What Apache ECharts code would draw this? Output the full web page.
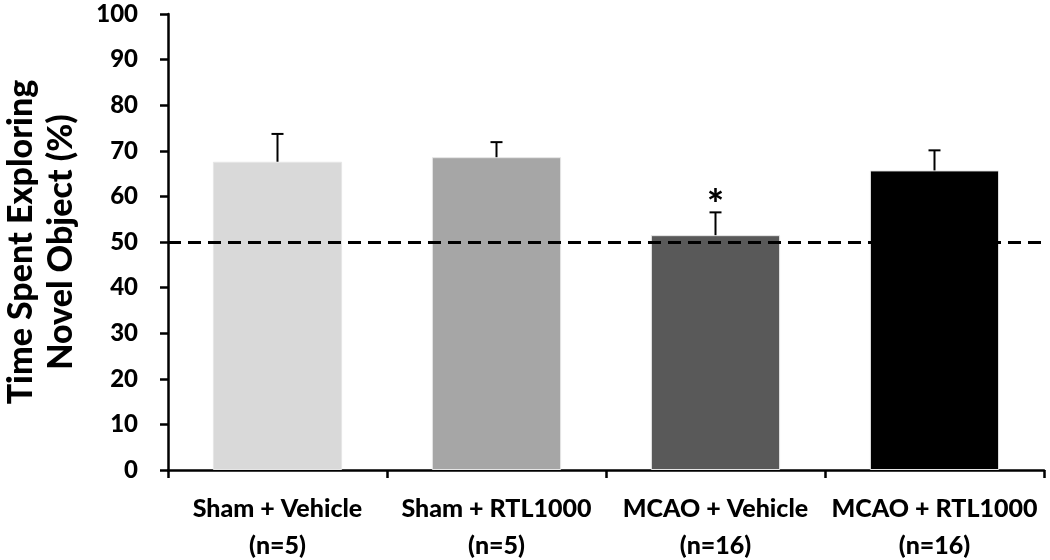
<!DOCTYPE html>
<html><head><meta charset="utf-8">
<script src="https://cdn.jsdelivr.net/npm/echarts@6/dist/echarts.min.js"></script>
<style>html,body{margin:0;padding:0;background:#fff}#c{width:1050px;height:560px}</style>
</head><body><div id="c"></div>
<script>
const categories = ['Sham + Vehicle\n(n=5)', 'Sham + RTL1000\n(n=5)', 'MCAO + Vehicle\n(n=16)', 'MCAO + RTL1000\n(n=16)'];
const means = [67.6, 68.6, 51.5, 65.7];
const errors = [6.1, 3.3, 5.0, 4.4];
const stars = ['', '', '*', ''];
const barColors = ['#d9d9d9', '#a6a6a6', '#595959', '#000000'];
const chanceLevel = 50;
const yTicks = [0, 100, 10];

const FONT = 'Lato';
const chart = echarts.init(document.getElementById('c'));
chart.setOption({
  animation: false,
  grid: { left: 168, right: 6, top: 14, bottom: 90, containLabel: false, outerBoundsMode: 'none' },
  xAxis: {
    type: 'category', data: categories,
    axisLine: { lineStyle: { color: '#000', width: 2.5 } },
    axisTick: { show: true, interval: 0, length: 8, lineStyle: { color: '#000', width: 2.5 } },
    axisLabel: { interval: 0, hideOverlap: false, color: '#000', fontFamily: FONT, fontWeight: 900, fontSize: 25, lineHeight: 37, margin: 20 }
  },
  yAxis: {
    type: 'value', min: yTicks[0], max: yTicks[1], interval: yTicks[2],
    name: 'Time Spent Exploring\nNovel Object (%)', nameLocation: 'middle', nameGap: 87,
    nameTextStyle: { color: '#000', fontFamily: FONT, fontWeight: 900, fontSize: 34, lineHeight: 40 },
    axisLine: { show: true, lineStyle: { color: '#000', width: 2.5 } },
    axisTick: { show: true, length: 8, lineStyle: { color: '#000', width: 2.5 } },
    splitLine: { show: false },
    axisLabel: { color: '#000', fontFamily: FONT, fontWeight: 900, fontSize: 24, margin: 30 }
  },
  series: [
    {
      type: 'bar', barWidth: '59%',
      data: means.map((v, i) => ({ value: v, itemStyle: { color: barColors[i], borderColor: '#e6e6e6', borderWidth: 1 } })),
      markLine: {
        silent: true, symbol: 'none', label: { show: false },
        lineStyle: { color: '#000', type: [13, 7], width: 3 },
        data: [{ yAxis: chanceLevel }]
      },
      z: 2
    },
    {
      type: 'custom', z: 3,
      data: means.map((v, i) => [i, v, errors[i]]),
      renderItem: function (params, api) {
        const i = api.value(0);
        const top = api.coord([i, api.value(1) + api.value(2)]);
        const base = api.coord([i, api.value(1)]);
        const children = [
          { type: 'line', shape: { x1: base[0], y1: base[1], x2: top[0], y2: top[1] }, style: { stroke: '#000', lineWidth: 2 } },
          { type: 'line', shape: { x1: top[0] - 6, y1: top[1], x2: top[0] + 6, y2: top[1] }, style: { stroke: '#000', lineWidth: 2 } }
        ];
        if (stars[i]) {
          children.push({ type: 'text', style: { text: stars[i], x: top[0], y: top[1] + 14, textAlign: 'center', textVerticalAlign: 'bottom', font: '900 40px ' + FONT, fill: '#000' } });
        }
        return { type: 'group', children: children };
      }
    }
  ]
});
</script></body></html>
